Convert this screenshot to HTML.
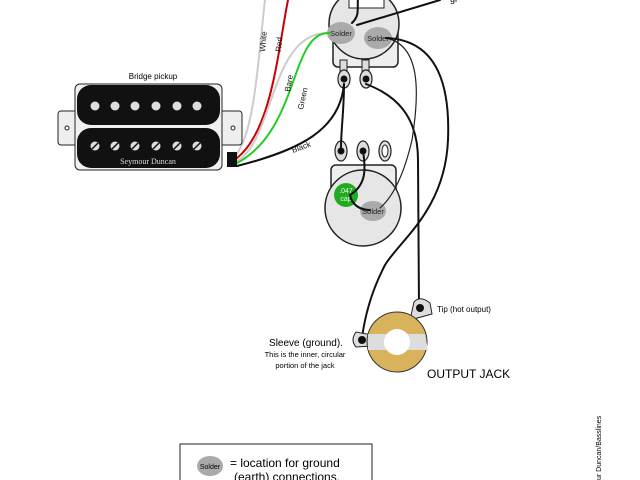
<!DOCTYPE html>
<html><head><style>body{margin:0;background:#fff}svg{display:block}text{font-family:"Liberation Sans",sans-serif}</style></head><body>
<svg width="640" height="480" viewBox="0 0 640 480" xmlns="http://www.w3.org/2000/svg">
<!-- volume pot -->
<rect x="333" y="25" width="65" height="42" rx="5" fill="#eee" stroke="#222" stroke-width="1.5"/>
<rect x="340" y="60" width="7" height="12" fill="#ddd" stroke="#222"/><rect x="362" y="60" width="7" height="12" fill="#ddd" stroke="#222"/>
<circle cx="364" cy="24" r="35" fill="#e6e6e6" stroke="#222" stroke-width="1.5"/>
<rect x="349" y="-2" width="35" height="10" fill="#fff" stroke="#222"/>
<ellipse cx="341" cy="33" rx="14" ry="11" fill="#aaa"/><text x="341" y="36" font-size="7.5" text-anchor="middle" fill="#222">Solder</text>
<ellipse cx="378" cy="38" rx="14" ry="11" fill="#aaa"/><text x="378" y="41" font-size="7.5" text-anchor="middle" fill="#222">Solder</text>
<g fill="#ddd" stroke="#222" stroke-width="1.2"><ellipse cx="344" cy="79" rx="6" ry="9"/><ellipse cx="366" cy="79" rx="6" ry="9"/></g>
<circle cx="344" cy="79" r="3.5" fill="#111"/><circle cx="366" cy="79" r="3.5" fill="#111"/>
<!-- tone pot -->
<rect x="331" y="165" width="65" height="40" rx="5" fill="#eee" stroke="#222" stroke-width="1.5"/>
<circle cx="363" cy="208" r="38" fill="#e6e6e6" stroke="#222" stroke-width="1.5"/>
<g fill="#ddd" stroke="#222" stroke-width="1.2"><ellipse cx="341" cy="151" rx="6" ry="10"/><ellipse cx="363" cy="151" rx="6" ry="10"/><ellipse cx="385" cy="151" rx="6" ry="10"/></g>
<circle cx="341" cy="151" r="3.5" fill="#111"/><circle cx="363" cy="151" r="3.5" fill="#111"/><ellipse cx="385" cy="151" rx="3" ry="6" fill="#fff" stroke="#222"/>
<ellipse cx="373" cy="211" rx="13" ry="10" fill="#aaa"/><text x="373" y="214" font-size="7.5" text-anchor="middle" fill="#222">Solder</text>
<circle cx="346" cy="195" r="12" fill="#2a2"/><text x="346" y="193" font-size="7" text-anchor="middle" fill="#dfd">.047</text><text x="346" y="201" font-size="7" text-anchor="middle" fill="#dfd">cap</text>
<!-- wires -->
<g fill="none" stroke-width="2" stroke-linecap="round">
<path d="M265 0 C258 60 255 130 236 155" stroke="#ccc"/>
<path d="M288 0 C278 50 272 130 237 158" stroke="#c00"/>
<path d="M330 33 C270 30 275 140 237 161" stroke="#ccc"/>
<path d="M330 33 C290 30 300 130 237 163" stroke="#2c2"/>
<path d="M344 84 C340 130 300 150 237 166" stroke="#111"/>
<path d="M344 84 C344 110 341 130 341 148" stroke="#111"/>
<path d="M352 23 C360 15 357 10 358 -2" stroke="#111"/>
<path d="M357 25 L440 0" stroke="#111"/>
<path d="M366 84 C395 95 418 115 418 160 L419 308" stroke="#111"/>
<path d="M386 38 C420 45 420 90 412 140 C405 170 395 195 380 208" stroke="#222" stroke-width="1.2"/>
<path d="M386 38 C440 40 450 90 448 140 C445 210 400 240 385 265 C372 290 365 315 362 338" stroke="#111"/>
<path d="M363 151 C366 170 366 185 350 195 C352 205 360 210 370 210" stroke="#111"/>
</g>
<text x="450" y="2" font-size="9">gr</text>
<!-- wire labels -->
<g font-size="8" fill="#111">
<text transform="translate(265,52) rotate(-85)">White</text>
<text transform="translate(281,52) rotate(-85)">Red</text>
<text transform="translate(290,92) rotate(-80)">Bare</text>
<text transform="translate(303,110) rotate(-78)">Green</text>
<text transform="translate(293,153) rotate(-20)">Black</text>
</g>
<!-- pickup -->
<text x="153" y="79" font-size="8" text-anchor="middle">Bridge pickup</text>
<rect x="58" y="111" width="22" height="34" rx="3" fill="#eee" stroke="#222"/><circle cx="67" cy="128" r="2" fill="#fff" stroke="#222"/>
<rect x="220" y="111" width="22" height="34" rx="3" fill="#eee" stroke="#222"/><circle cx="233" cy="128" r="2" fill="#fff" stroke="#222"/>
<rect x="75" y="84" width="147" height="86" rx="5" fill="#f0f0f0" stroke="#222"/>
<rect x="77" y="85" width="143" height="40" rx="14" fill="#111"/>
<rect x="77" y="128" width="143" height="40" rx="14" fill="#111"/>
<g fill="#ddd"><circle cx="95" cy="106" r="4.5"/><circle cx="115" cy="106" r="4.5"/><circle cx="135" cy="106" r="4.5"/><circle cx="156" cy="106" r="4.5"/><circle cx="177" cy="106" r="4.5"/><circle cx="197" cy="106" r="4.5"/>
<circle cx="95" cy="146" r="4.5"/><circle cx="115" cy="146" r="4.5"/><circle cx="135" cy="146" r="4.5"/><circle cx="156" cy="146" r="4.5"/><circle cx="177" cy="146" r="4.5"/><circle cx="197" cy="146" r="4.5"/></g>
<g stroke="#111" stroke-width="1.5"><path d="M92 149l6-6M112 149l6-6M132 149l6-6M153 149l6-6M174 149l6-6M194 149l6-6"/></g>
<text x="148" y="164" font-size="8" text-anchor="middle" fill="#ddd" style="font-family:'Liberation Serif',serif">Seymour Duncan</text>
<rect x="227" y="152" width="10" height="15" fill="#111"/>
<!-- jack -->
<path d="M410 320 L414 302 Q420 295 430 303 L432 314 Z" fill="#ddd" stroke="#222"/>
<path d="M372 335 L356 332 Q350 340 356 347 L372 346 Z" fill="#ddd" stroke="#222"/>
<circle cx="397" cy="342" r="30" fill="#d9b25c" stroke="#333"/>
<path d="M368 334 L425 334 L428 350 L368 350 Z" fill="#ddd"/>
<circle cx="397" cy="342" r="13" fill="#fff"/>
<circle cx="420" cy="308" r="4" fill="#111"/><circle cx="362" cy="340" r="4" fill="#111"/>
<text x="437" y="312" font-size="8">Tip (hot output)</text>
<text x="306" y="346" font-size="10" text-anchor="middle">Sleeve (ground).</text>
<text x="305" y="357" font-size="7.5" text-anchor="middle">This is the inner, circular</text>
<text x="305" y="368" font-size="7.5" text-anchor="middle">portion of the jack</text>
<text x="427" y="378" font-size="12">OUTPUT JACK</text>
<!-- legend -->
<rect x="180" y="444" width="192" height="50" fill="#fff" stroke="#222"/>
<ellipse cx="210" cy="466" rx="13" ry="10" fill="#aaa"/><text x="210" y="469" font-size="7" text-anchor="middle">Solder</text>
<text x="230" y="467" font-size="12">= location for ground</text>
<text x="234" y="481" font-size="12">(earth) connections.</text>
<text transform="translate(601,480) rotate(-90)" font-size="7">ur Duncan/Basslines</text>
</svg>
</body></html>
